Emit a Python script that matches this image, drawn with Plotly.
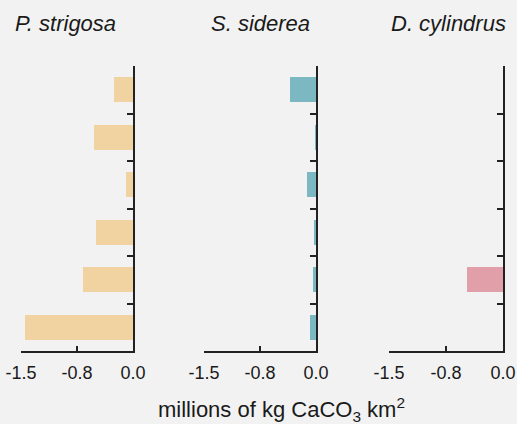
import plotly.graph_objects as go

# Data
categories = ["1", "2", "3", "4", "5", "6"]  # rows top to bottom
species = ["P. strigosa", "S. siderea", "D. cylindrus"]
p_strigosa = [-0.26, -0.52, -0.10, -0.49, -0.67, -1.44]
s_siderea = [-0.345, -0.02, -0.12, -0.03, -0.035, -0.085]
d_cylindrus = [0.0, 0.0, 0.0, 0.0, -0.47, 0.0]
colors = ["#F0D3A0", "#7CB8C1", "#E19FAA"]
x_tickvals = [-1.5, -0.75, 0.0]
x_ticktext = ["-1.5", "-0.8", "0.0"]

W, H = 517, 424
series = [p_strigosa, s_siderea, d_cylindrus]
x_px = [(21, 133), (204, 316), (389, 503)]
y_top, y_bot = 66, 351
title_cx = [65, 260, 448]

fig = go.Figure()
ypos = list(range(len(categories)))
for i, vals in enumerate(series):
    n = i + 1
    xa = "x" if n == 1 else f"x{n}"
    ya = "y" if n == 1 else f"y{n}"
    fig.add_trace(go.Bar(
        x=vals, y=ypos, orientation="h", width=0.52,
        marker=dict(color=colors[i], line=dict(width=0)),
        xaxis=xa, yaxis=ya, showlegend=False, hoverinfo="skip",
    ))
    xkey = "xaxis" if n == 1 else f"xaxis{n}"
    ykey = "yaxis" if n == 1 else f"yaxis{n}"
    fig.layout[xkey] = dict(
        domain=[x_px[i][0] / W, x_px[i][1] / W],
        range=[-1.5, 0], anchor=ya,
        tickvals=x_tickvals, ticktext=x_ticktext,
        ticks="inside", ticklen=5, tickwidth=2, tickcolor="#222",
        showline=True, linecolor="#222", linewidth=2,
        showgrid=False, zeroline=False,
        tickfont=dict(family="Liberation Sans, Arial", size=18, color="#1a1a1a"),
        ticklabelstandoff=4, fixedrange=True,
    )
    fig.layout[ykey] = dict(
        domain=[1 - y_bot / H, 1 - y_top / H],
        range=[len(categories) - 0.5, -0.5], anchor=xa, side="right",
        tickvals=[k - 0.5 for k in range(len(categories) + 1)],
        ticks="inside", ticklen=6, tickwidth=2, tickcolor="#222",
        showticklabels=False,
        showline=True, linecolor="#222", linewidth=2,
        showgrid=False, zeroline=False, fixedrange=True,
    )
    fig.add_annotation(
        text=f"<i>{species[i]}</i>", x=title_cx[i] / W, y=1 - 24 / H,
        xref="paper", yref="paper", showarrow=False,
        xanchor="center", yanchor="middle",
        font=dict(family="Liberation Sans, Arial", size=22, color="#1a1a1a"),
    )

fig.add_annotation(
    text="millions of kg CaCO<sub>3</sub> km<sup>2</sup>",
    x=281 / W, y=1 - 409 / H, xref="paper", yref="paper", showarrow=False,
    xanchor="center", yanchor="middle",
    font=dict(family="Liberation Sans, Arial", size=22, color="#1a1a1a"),
)

fig.update_layout(
    width=W, height=H, margin=dict(l=0, r=0, t=0, b=0, autoexpand=False),
    paper_bgcolor="#F2F2F2", plot_bgcolor="#F2F2F2",
    bargap=0,
)
fig.write_html(
    "out.html",
    config={"displayModeBar": False, "staticPlot": True},
    post_script="document.body.style.margin='0';document.body.style.background='#F2F2F2';",
)
